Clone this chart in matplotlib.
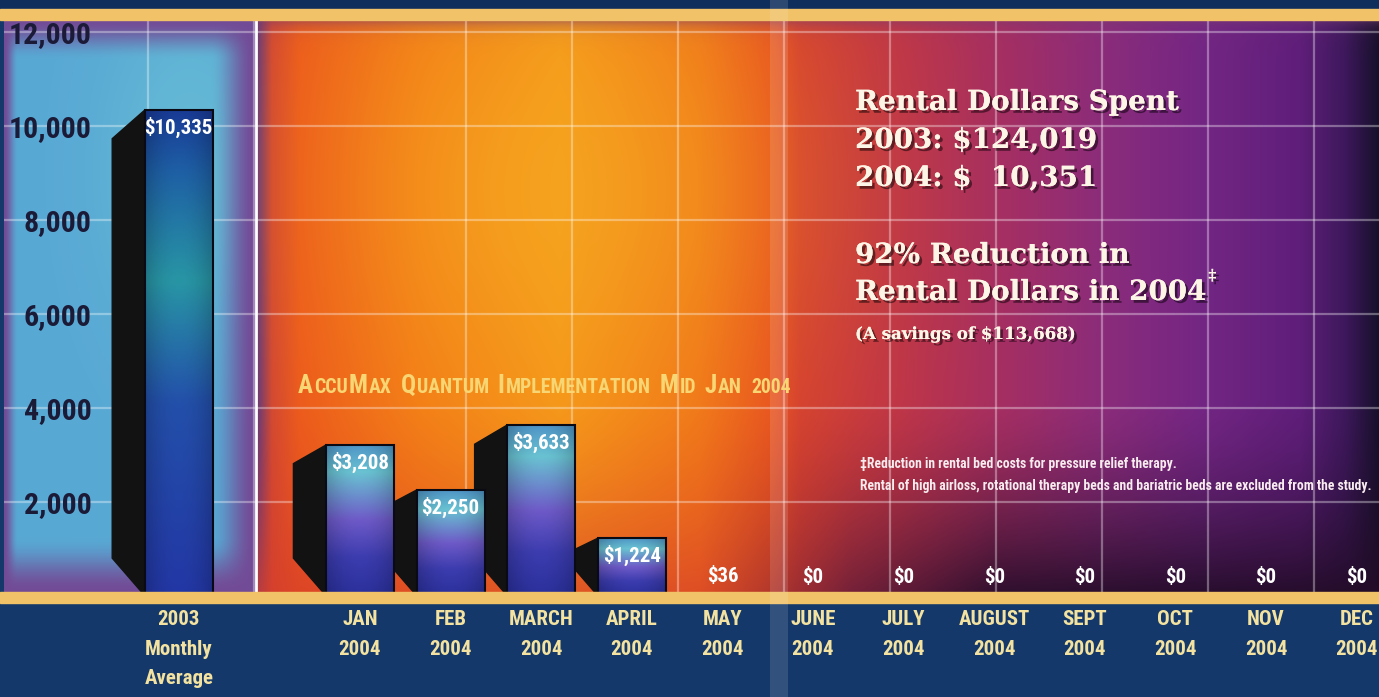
import matplotlib
matplotlib.use('Agg')
import matplotlib.pyplot as plt
import matplotlib.patheffects as pe
from matplotlib import font_manager as fm
from matplotlib.patches import Rectangle, Polygon
import numpy as np

# ---- data ----
categories = ['2003\nMonthly\nAverage', 'JAN\n2004', 'FEB\n2004', 'MARCH\n2004', 'APRIL\n2004',
              'MAY\n2004', 'JUNE\n2004', 'JULY\n2004', 'AUGUST\n2004', 'SEPT\n2004',
              'OCT\n2004', 'NOV\n2004', 'DEC\n2004']
positions = [-2, 0, 1, 2, 3, 4, 5, 6, 7, 8, 9, 10, 11]
values = [10335, 3208, 2250, 3633, 1224, 36, 0, 0, 0, 0, 0, 0, 0]
value_labels = ['$10,335', '$3,208', '$2,250', '$3,633', '$1,224', '$36',
                '$0', '$0', '$0', '$0', '$0', '$0', '$0']
yticks = [2000, 4000, 6000, 8000, 10000, 12000]
ytick_labels = ['2,000', '4,000', '6,000', '8,000', '10,000', '12,000']
headline = ['Rental Dollars Spent', '2003: $124,019', '2004: $  10,351']
reduction = ['92% Reduction in', 'Rental Dollars in 2004']
savings = '(A savings of $113,668)'
implementation = 'AccuMax Quantum Implementation Mid Jan 2004'
footnotes = ['\u2021Reduction in rental bed costs for pressure relief therapy.',
             'Rental of high airloss, rotational therapy beds and bariatric beds are excluded from the study.']

W, H = 1379, 697
NAVY = '#14386a'
YELLOW = '#f1c268'
LABEL_YELLOW = '#f4e3a0'

# pick a condensed sans face if one is installed
COND_STRETCHES = ('condensed', 'semi-condensed', 'extra-condensed', 'ultra-condensed')
cond_faces = [f for f in fm.fontManager.ttflist
              if 'narrow' in f.name.lower() or 'condensed' in f.name.lower() or f.stretch in COND_STRETCHES]
prefs = ['Liberation Sans Narrow', 'Roboto Condensed', 'Open Sans Condensed', 'Noto Sans Condensed',
         'Noto Sans', 'Roboto', 'Open Sans', 'DejaVu Sans Condensed', 'DejaVu Sans']
cond_faces.sort(key=lambda f: (prefs.index(f.name) if f.name in prefs else 99))
if cond_faces:
    COND = dict(family=[cond_faces[0].name, 'DejaVu Sans'], fontstretch=cond_faces[0].stretch)
    SCALE = 1.0
else:
    COND = dict(family=['DejaVu Sans'], fontstretch='normal')
    SCALE = 0.8


def smooth(t):
    t = np.clip(t, 0, 1)
    return t * t * (3 - 2 * t)


def background():
    xs = np.arange(4, 1379) + 0.5
    ys = np.arange(20, 592) + 0.5
    X, Y = np.meshgrid(xs, ys)

    # right (orange -> purple) panel
    kx = [257, 272, 300, 420, 560, 700, 770, 800, 900, 1000, 1100, 1200, 1300, 1345, 1379]
    kc = np.array([(95, 55, 125), (210, 70, 50), (236, 88, 28), (243, 122, 22), (245, 148, 25),
                   (240, 115, 25), (232, 82, 32), (212, 62, 48), (190, 52, 72), (165, 46, 98),
                   (140, 44, 122), (116, 38, 132), (95, 30, 122), (62, 24, 92), (22, 16, 42)], float)
    right = np.stack([np.interp(X, kx, kc[:, c]) for c in range(3)], axis=-1)
    glow = np.exp(-(((X - 560) / 160) ** 2 + ((Y - 190) / 140) ** 2) / 2)[..., None] * 0.55
    right = right * (1 - glow) + np.array([246, 175, 35]) * glow
    wt = (0.55 * np.exp(-(Y - 20) / 7))[..., None]
    right = right * (1 - wt) + np.array([120, 60, 110]) * wt
    fx = np.interp(X, [700, 800, 1000, 1379], [0.7, 0.7, 0.9, 0.95])
    wb = (np.clip((Y - 400) / 192, 0, 1) ** 1.5 * fx)[..., None]
    bcol = np.stack([np.interp(X, [300, 700, 850, 1000], c) for c in
                     ([215, 215, 90, 35], [62, 62, 25, 12], [42, 42, 55, 40])], axis=-1)
    right = right * (1 - wb) + bcol * wb

    # left (cyan) panel with purple vignette
    base = np.array([88, 168, 212], float)
    tglow = np.exp(-(((X - 190) / 60) ** 2 + ((Y - 170) / 120) ** 2) / 2)[..., None] * 0.5
    lbase = base * (1 - tglow) + np.array([115, 205, 215]) * tglow
    w = (smooth((X - 4) / 14) * smooth((255 - X) / 45) *
         smooth((Y - 20) / 40) * smooth((592 - Y) / 55))[..., None]
    left = np.array([115, 75, 150]) * (1 - w) + lbase * w

    img = np.where((X < 256)[..., None], left, right)
    return np.clip(img / 255, 0, 1)


def face_gradient(tall, n=80, m=20):
    t = np.linspace(0, 1, n)
    u = np.linspace(0, 1, m)
    if tall:
        keys = [0, 0.12, 0.35, 0.6, 1]
        cols = np.array([(25, 60, 150), (30, 95, 165), (40, 150, 165), (35, 80, 170), (35, 55, 165)], float)
    else:
        keys = [0, 0.18, 0.5, 0.75, 1]
        cols = np.array([(80, 150, 200), (105, 195, 210), (110, 90, 200), (60, 60, 175), (42, 48, 155)], float)
    vert = np.stack([np.interp(t, keys, cols[:, c]) for c in range(3)], axis=-1)
    shade = 1 - 0.18 * (2 * u - 1) ** 2
    return np.clip(vert[:, None, :] * shade[None, :, None] / 255, 0, 1)


fig = plt.figure(figsize=(W / 100, H / 100), dpi=100, facecolor=NAVY)
# top and bottom bands
fig.add_artist(Rectangle((0, 1 - 9 / H), 1, 9 / H, transform=fig.transFigure, color='#0f2e5c', zorder=0))
fig.add_artist(Rectangle((0, 1 - 20 / H), 1, 11 / H, transform=fig.transFigure, color=YELLOW, zorder=1))
fig.add_artist(Rectangle((0, 1 - 603 / H), 1, 11 / H, transform=fig.transFigure, color=YELLOW, zorder=1))

ax = fig.add_axes([4 / W, 105 / H, 1375 / W, 572 / H])
x_lo, x_hi = (4 - 360) / 90.6, (1379 - 360) / 90.6
y_lo, y_hi = 80, 12250
ax.imshow(background(), extent=[x_lo, x_hi, y_lo, y_hi], origin='upper', aspect='auto',
          interpolation='bilinear', zorder=0)

# grid
ax.set_axisbelow(True)
ax.set_xticks([k * 1.17 for k in range(-2, 10)], minor=True)
ax.grid(True, which='minor', axis='x', color='white', alpha=0.35, lw=1.6)
ax.grid(True, which='major', axis='y', color='white', alpha=0.35, lw=1.6)
ax.axvline((256 - 360) / 90.6, color='white', lw=2, zorder=1)

# bars: dark side faces, then gradient fronts
bw, depth = 0.75, 0.36
for p, v in zip(positions, values):
    if v <= 0:
        continue
    x0 = p - bw / 2
    top_l = max(v - (0.03 * v + 300), 0)
    bot_l = min(800, top_l)
    ax.add_patch(Polygon([(x0 - depth, top_l), (x0, v), (x0, 0), (x0 - depth, bot_l)],
                         closed=True, facecolor='#121212', edgecolor='#121212', lw=1, zorder=2))
for p, v in zip(positions, values):
    if v <= 0:
        continue
    ax.imshow(face_gradient(v > 5000), extent=[p - bw / 2, p + bw / 2, 0, v], origin='upper',
              aspect='auto', interpolation='bilinear', zorder=3)
ax.bar(positions, values, width=bw, fill=False, edgecolor='#0a0a14', lw=1.5, zorder=3.5)

for p, v, lab in zip(positions, values, value_labels):
    inside = v >= 1000
    ax.annotate(lab, (p, v), xytext=(0, -5 if inside else 6), textcoords='offset points',
                ha='center', va='top' if inside else 'bottom', color='white', fontsize=15 * SCALE,
                fontweight='bold', zorder=4, annotation_clip=False, **COND)

ax.set_xlim(x_lo, x_hi)
ax.set_ylim(y_lo, y_hi)
for s in ax.spines.values():
    s.set_visible(False)
ax.set_yticks(yticks, labels=ytick_labels, fontsize=21.5 * SCALE, fontweight='bold', color='#1b1b38', **COND)
ax.set_xticks(positions, labels=categories, fontsize=15 * SCALE, fontweight='bold',
              color=LABEL_YELLOW, linespacing=1.7, **COND)
ax.tick_params(axis='y', length=0, pad=-63)
ax.tick_params(axis='x', which='both', length=0, pad=13)

# paper fold
fig.add_artist(Rectangle((770 / W, 0), 18 / W, 1, transform=fig.transFigure,
                         color='white', alpha=0.13, lw=0, zorder=2))

renderer = fig.canvas.get_renderer()


def fx(x):
    return x / W


def fy(y):
    return 1 - y / H


shadow = [pe.withSimplePatchShadow(offset=(2, -2), shadow_rgbFace='black', alpha=0.5), pe.Normal()]
SERIF = dict(family=['DejaVu Serif'], fontweight='bold', color='#fdf6e6', va='baseline', ha='left',
             path_effects=shadow)
for i, line in enumerate(headline):
    fig.text(fx(855), fy(110 + 38 * i), line, fontsize=20, **SERIF)
red_texts = []
for i, line in enumerate(reduction):
    red_texts.append(fig.text(fx(855), fy(263 + 37 * i), line, fontsize=20, **SERIF))
bb = red_texts[-1].get_window_extent(renderer)
fig.text(bb.x1 / W + 2 / W, fy(280), '\u2021', fontsize=11, **SERIF)
fig.text(fx(855), fy(339), savings, fontsize=12, **SERIF)

# small-caps implementation note, fitted to the reference span (x 298 -> 790)
pieces = []
for word in implementation.split(' '):
    runs = []
    for ch in word:
        big = ch.isupper()
        if runs and runs[-1][1] == big:
            runs[-1][0] += ch
        else:
            runs.append([ch, big])
    pieces.append(runs)


def draw_caps(scale, draw=True):
    x_cur = 298
    made = []
    for runs in pieces:
        for txt, big in runs:
            t = fig.text(fx(x_cur), fy(393), txt.upper(), fontsize=(19 if big else 15) * scale,
                         fontweight='bold', color='#f8d673', va='baseline', ha='left', zorder=4, **COND)
            made.append(t)
            x_cur += t.get_window_extent(renderer).width + 1
        x_cur += 8
    if not draw:
        for t in made:
            t.remove()
    return x_cur - 8


span = draw_caps(1.0, draw=False) - 298
draw_caps(min(1.0, 492 / span))

# footnotes, fitted to the reference width (x 860 -> 1370)
foot = [fig.text(fx(860), fy(468 + 22 * i), line, fontsize=10, fontweight='bold',
                 color='#f8ecef', va='baseline', ha='left', **COND) for i, line in enumerate(footnotes)]
wmax = max(t.get_window_extent(renderer).width for t in foot)
if wmax > 510:
    for t in foot:
        t.set_fontsize(10 * 510 / wmax)

fig.savefig('out.png', dpi=100, facecolor=NAVY)
